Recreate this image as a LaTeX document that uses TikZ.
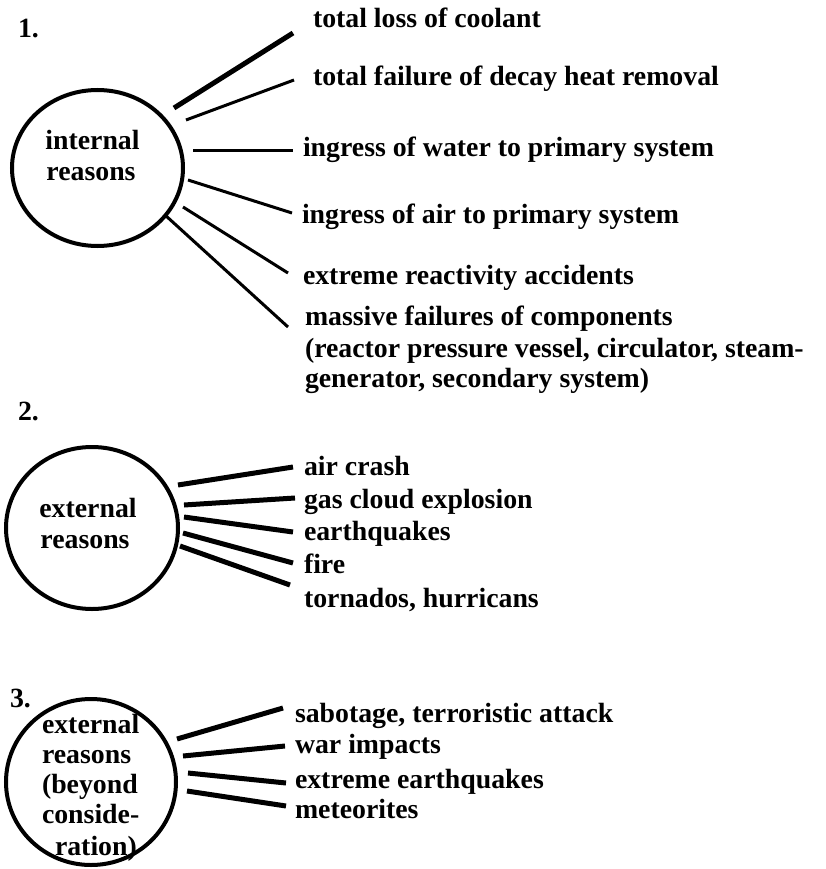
\documentclass[tikz,border=0pt]{standalone}
\usepackage{fontspec}
\setmainfont{Liberation Serif}
\usetikzlibrary{shapes.geometric}
\tikzset{
  txt/.style={anchor=base west, inner sep=0pt, outer sep=0pt, font=\fontsize{27.8}{30}\selectfont\bfseries},
  ctxt/.style={anchor=base, inner sep=0pt, outer sep=0pt, font=\fontsize{27.8}{30}\selectfont\bfseries},
  ring/.style={ellipse, draw, line width=4pt, inner sep=0pt, outer sep=0pt},
  thin/.style={line width=3pt},
  thick/.style={line width=5pt}
}
\begin{document}
\begin{tikzpicture}[x=1pt,y=-1pt]
\useasboundingbox (0,0) rectangle (825,869);

% ---------- group 1 ----------
\node[txt] (n1) at (18,38) {1.};
\node[ring, minimum width=171, minimum height=156] (c1) at (97.5,168) {};
\node[ctxt] (c1a) at (92.5,150) {internal};
\node[ctxt] (c1b) at (91,180) {reasons};

\node[txt] (t11) at (313,28) {total loss of coolant};
\node[txt] (t12) at (313,86) {total failure of decay heat removal};
\node[txt] (t13) at (303,157) {ingress of water to primary system};
\node[txt] (t14) at (302,223) {ingress of air to primary system};
\node[txt] (t15) at (303,284) {extreme reactivity accidents};
\node[txt] (t16) at (305,325) {massive failures of components};
\node[txt] (t16b) at (305,357) {(reactor pressure vessel, circulator, steam-};
\node[txt] (t16c) at (305,387) {generator, secondary system)};

\coordinate (s11) at (174,108); \coordinate (e11) at (293,33);
\coordinate (s12) at (186,120); \coordinate (e12) at (294,80);
\coordinate (s13) at (193,151); \coordinate (e13) at (293,151);
\coordinate (s14) at (188,180); \coordinate (e14) at (292,213);
\coordinate (s15) at (183,207); \coordinate (e15) at (288,273);
\coordinate (s16) at (165,215); \coordinate (e16) at (288,327);
\draw[thick] (s11) -- (e11);
\draw[thin] (s12) -- (e12);
\draw[thin] (s13) -- (e13);
\draw[thin] (s14) -- (e14);
\draw[thin] (s15) -- (e15);
\draw[thin] (s16) -- (e16);

% ---------- group 2 ----------
\node[txt] (n2) at (18,420) {2.};
\node[ring, minimum width=172, minimum height=162] (c2) at (92,528) {};
\node[ctxt] (c2a) at (88,517) {external};
\node[ctxt] (c2b) at (85,548) {reasons};

\node[txt] (t21) at (304,475) {air crash};
\node[txt] (t22) at (304,508) {gas cloud explosion};
\node[txt] (t23) at (304,540) {earthquakes};
\node[txt] (t24) at (304,573) {fire};
\node[txt] (t25) at (304,607) {tornados, hurricans};

\coordinate (s21) at (178,485); \coordinate (e21) at (293,467);
\coordinate (s22) at (184,505); \coordinate (e22) at (295,498);
\coordinate (s23) at (184,517); \coordinate (e23) at (293,532);
\coordinate (s24) at (183,533); \coordinate (e24) at (293,563);
\coordinate (s25) at (180,546); \coordinate (e25) at (290,585);
\draw[thick] (s21) -- (e21);
\draw[thick] (s22) -- (e22);
\draw[thick] (s23) -- (e23);
\draw[thick] (s24) -- (e24);
\draw[thick] (s25) -- (e25);

% ---------- group 3 ----------
\node[txt] (n3) at (10,707) {3.};
\node[ring, minimum width=170, minimum height=166] (c3) at (91,782) {};
\node[txt] (c3a) at (42,733) {external};
\node[txt] (c3b) at (42,763) {reasons};
\node[txt] (c3c) at (42,793) {(beyond};
\node[txt] (c3d) at (42,823) {conside-};
\node[txt] (c3e) at (55,855) {ration)};

\node[txt] (t31) at (295,722) {sabotage, terroristic attack};
\node[txt] (t32) at (295,753) {war impacts};
\node[txt] (t33) at (295,788) {extreme earthquakes};
\node[txt] (t34) at (295,818) {meteorites};

\coordinate (s31) at (177,739); \coordinate (e31) at (283,708);
\coordinate (s32) at (183,756); \coordinate (e32) at (285,746);
\coordinate (s33) at (188,773); \coordinate (e33) at (286,783);
\coordinate (s34) at (187,791); \coordinate (e34) at (286,806);
\draw[thick] (s31) -- (e31);
\draw[thick] (s32) -- (e32);
\draw[thick] (s33) -- (e33);
\draw[thick] (s34) -- (e34);
\end{tikzpicture}
\end{document}
